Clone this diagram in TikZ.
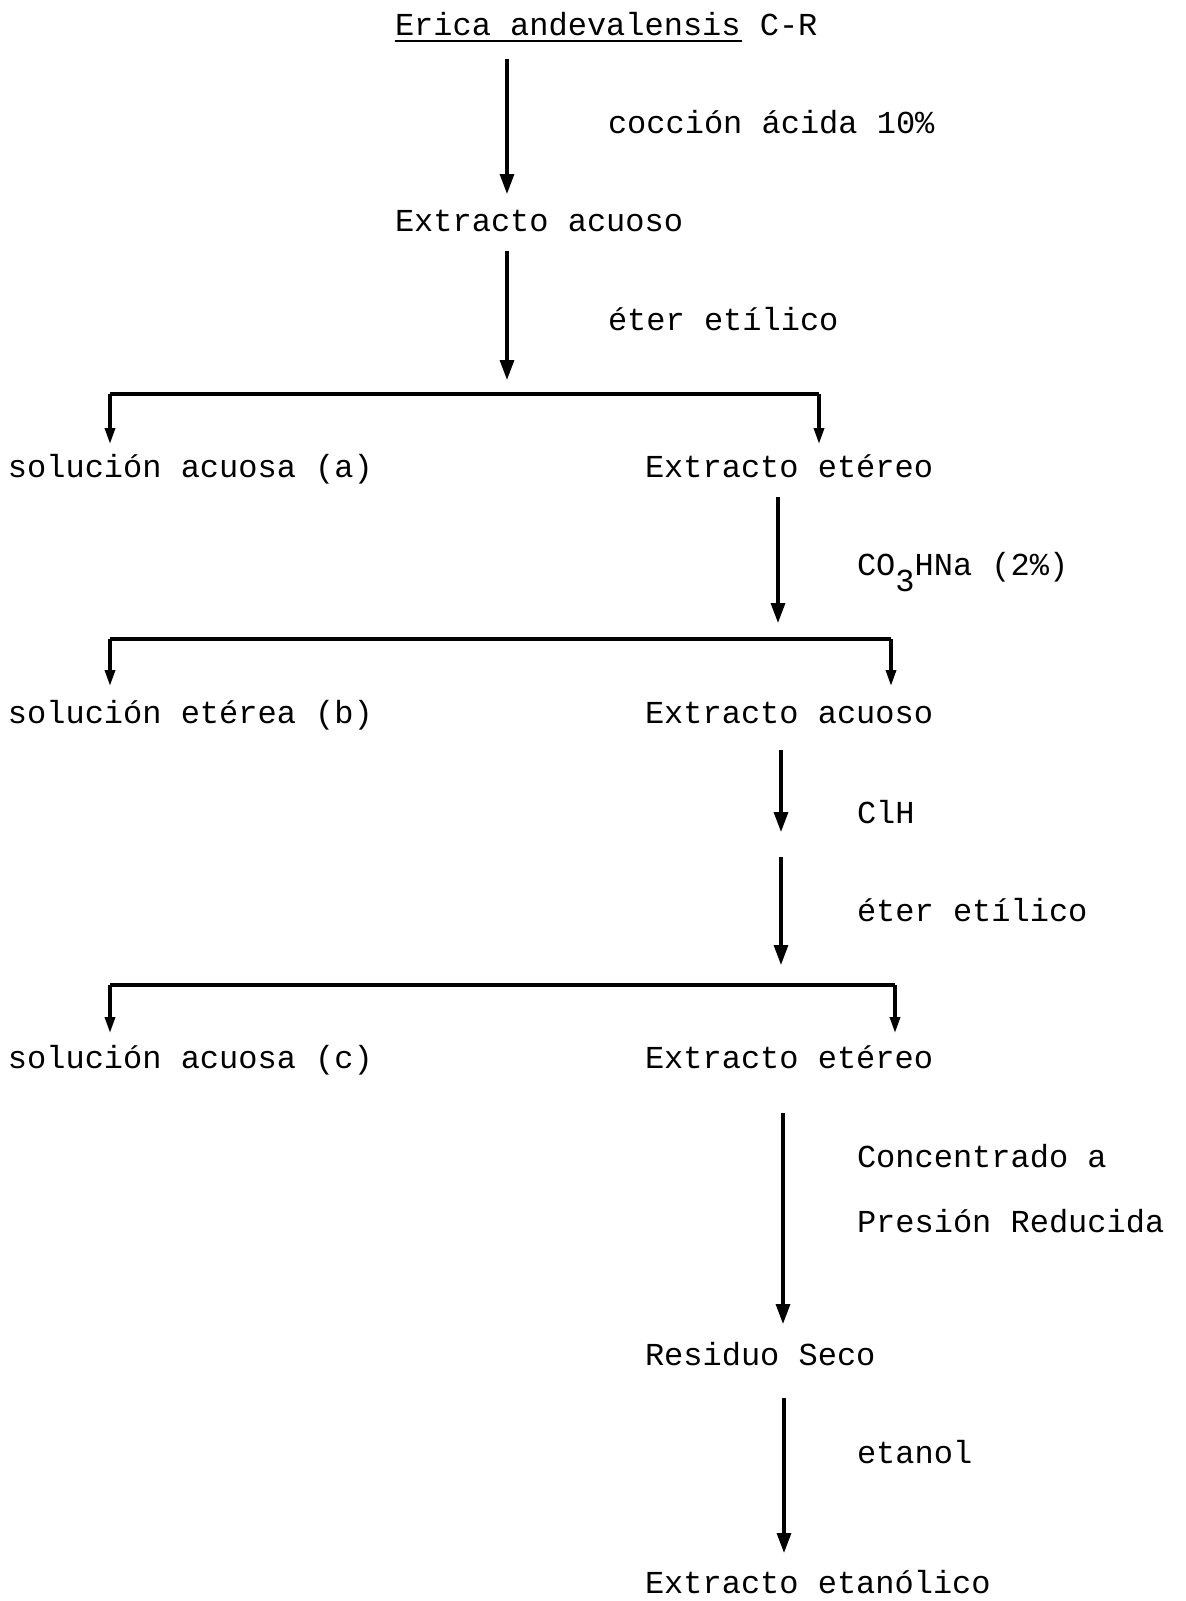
\documentclass[tikz,border=0pt]{standalone}
\usepackage{fontspec}
\setmainfont{Liberation Mono}
\usetikzlibrary{arrows.meta}
\begin{document}
\begin{tikzpicture}[x=0.5pt,y=-0.5pt,
  every node/.style={inner sep=0pt,outer sep=0pt,anchor=mid west,font=\fontsize{16}{19}\selectfont},
  arr/.style={line width=1.6pt,-{Triangle[length=10pt,width=7pt]}},
  brk/.style={line width=1.7pt,-{Triangle[length=8pt,width=5pt]}},
  brkline/.style={line width=1.7pt}]
\useasboundingbox (0,0) rectangle (1185,1601);
% nodes
\node (title) at (395,30.5) {Erica andevalensis C-R};
\node (l1) at (608,128.5) {cocción ácida 10\%};
\node (ea1) at (395,226.5) {Extracto acuoso};
\node (l2) at (608,325.5) {éter etílico};
\node (sa) at (8,472.5) {solución acuosa (a)};
\node (ee1) at (645,472.5) {Extracto etéreo};
\node (l3) at (857,570.5) {CO\raisebox{-8pt}{3}HNa (2\%)};
\node (sb) at (8,718.5) {solución etérea (b)};
\node (ea2) at (645,718.5) {Extracto acuoso};
\node (l4) at (857,818.5) {ClH};
\node (l5) at (857,916.5) {éter etílico};
\node (sc) at (8,1063.5) {solución acuosa (c)};
\node (ee2) at (645,1063.5) {Extracto etéreo};
\node (l6a) at (857,1162.5) {Concentrado a};
\node (l6b) at (857,1227.5) {Presión Reducida};
\node (rs) at (645,1360.5) {Residuo Seco};
\node (l7) at (857,1458.5) {etanol};
\node (et) at (645,1588) {Extracto etanólico};
% underline of the species name
\draw[line width=1.2pt] (395,41) -- (742,41);
% connector points
\coordinate (a1s) at (507,59);   \coordinate (a1e) at (507,194);
\coordinate (a2s) at (507,251);  \coordinate (a2e) at (507,380);
\coordinate (b1l) at (110,394);  \coordinate (b1r) at (819,394);
\coordinate (a3s) at (778,497);  \coordinate (a3e) at (778,623);
\coordinate (b2l) at (110,639);  \coordinate (b2r) at (891,639);
\coordinate (a4s) at (781,750);  \coordinate (a4e) at (781,832);
\coordinate (a5s) at (781,857);  \coordinate (a5e) at (781,965);
\coordinate (b3l) at (110,985);  \coordinate (b3r) at (895,985);
\coordinate (a6s) at (783,1113); \coordinate (a6e) at (783,1324);
\coordinate (a7s) at (784,1398); \coordinate (a7e) at (784,1553);
% arrows
\draw[arr] (a1s) -- (a1e);
\draw[arr] (a2s) -- (a2e);
\draw[brkline] (b1l) -- (b1r);
\draw[brk] (b1l) -- (110,444);
\draw[brk] (b1r) -- (819,444);
\draw[arr] (a3s) -- (a3e);
\draw[brkline] (b2l) -- (b2r);
\draw[brk] (b2l) -- (110,686);
\draw[brk] (b2r) -- (891,686);
\draw[arr] (a4s) -- (a4e);
\draw[arr] (a5s) -- (a5e);
\draw[brkline] (b3l) -- (b3r);
\draw[brk] (b3l) -- (110,1033);
\draw[brk] (b3r) -- (895,1033);
\draw[arr] (a6s) -- (a6e);
\draw[arr] (a7s) -- (a7e);
\end{tikzpicture}
\end{document}
